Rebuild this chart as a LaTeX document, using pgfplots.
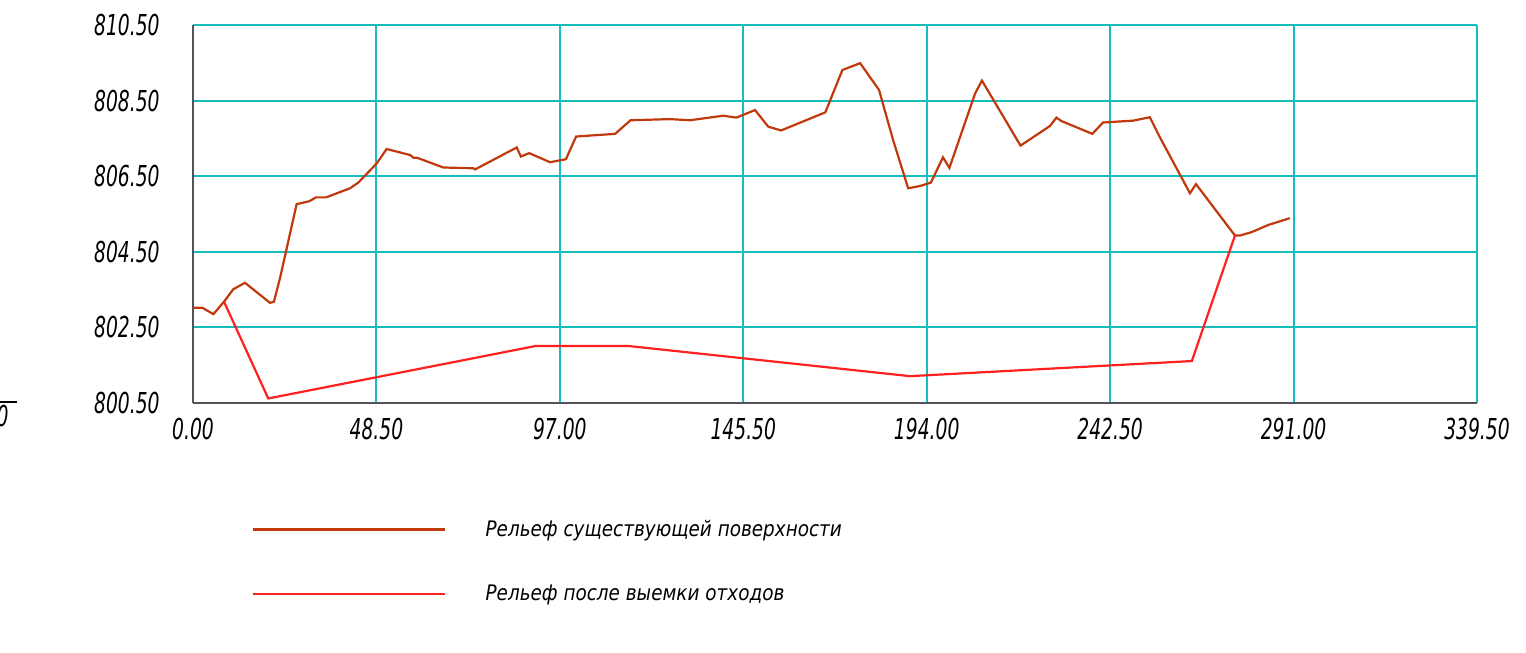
\documentclass[border=0pt]{standalone}
\usepackage{fontspec}
\setmainfont{DejaVu Sans}
\newfontfamily\tickfont{DejaVu Sans}[FakeStretch=0.65]
\newfontfamily\legfont{DejaVu Sans}[FakeStretch=0.86]
\usepackage{pgfplots}
\usepackage{pgfplotstable}
\pgfplotsset{compat=1.18}

\definecolor{gridteal}{RGB}{20,190,190}
\definecolor{relief}{RGB}{192,57,12}
\definecolor{cutred}{RGB}{255,32,32}
\definecolor{axisgray}{RGB}{80,84,86}

% existing ground surface
\pgfplotstableread{
x y
0 803.02
2.46 803.02
5.4 802.85
8.2 803.18
10.66 803.51
13.75 803.68
20.36 803.15
21.4 803.18
23.0 803.80
27.4 805.76
30.8 805.84
32.5 805.94
35.2 805.94
41.5 806.18
43.7 806.33
48.6 806.84
51.2 807.22
57.4 807.06
58.3 806.99
59.2 806.99
66.2 806.73
74.1 806.71
74.6 806.68
85.6 807.26
86.7 807.02
88.9 807.11
94.4 806.87
98.6 806.95
101.3 807.55
111.6 807.62
115.7 807.98
126.1 808.01
131.4 807.98
140.2 808.10
143.7 808.05
148.6 808.25
152.1 807.81
155.5 807.71
167.2 808.19
171.7 809.31
176.4 809.49
181.4 808.78
185.1 807.46
189.1 806.18
192.2 806.24
195.1 806.33
198.3 807.00
200.0 806.72
206.8 808.69
208.6 809.03
218.8 807.31
226.6 807.83
228.3 808.05
229.6 807.96
237.8 807.62
240.6 807.92
248.6 807.97
253.0 808.06
255.7 807.52
263.6 806.05
265.2 806.29
275.5 804.93
276.8 804.93
279.9 805.02
284.3 805.21
290.0 805.39
}\surface

% surface after excavation
\pgfplotstableread{
x y
8.2 803.18
19.9 800.62
90.7 802.01
115.0 802.01
189.6 801.21
264.1 801.61
275.5 804.93
}\excavated

\begin{document}
\begin{tikzpicture}
\begin{axis}[
    at={(0pt,0pt)}, anchor=south west,
    scale only axis,
    width=642pt, height=189pt,
    xmin=0, xmax=339.5,
    ymin=800.5, ymax=810.5,
    xtick={0,48.5,97,145.5,194,242.5,291,339.5},
    ytick={800.5,802.5,804.5,806.5,808.5,810.5},
    axis lines=left,
    axis line style={-, draw=axisgray, line width=1pt},
    major tick length=0pt,
    grid=major,
    grid style={draw=gridteal, line width=1pt},
    /pgf/number format/fixed,
    /pgf/number format/fixed zerofill,
    /pgf/number format/precision=2,
    /pgf/number format/1000 sep={},
    /pgf/number format/assume math mode=true,
    tick label style={font={\tickfont\itshape\fontsize{14.4pt}{16pt}\selectfont}},
    yticklabel style={anchor=east, inner sep=0pt, xshift=-16.5pt},
    xticklabel style={anchor=north, inner sep=0pt, yshift=-7.5pt},
    title={Разрез Б-Б},
    title style={at={(0.479,1)}, anchor=base, yshift=11pt, inner sep=0pt,
        font={\tickfont\itshape\fontsize{14.4pt}{16pt}\selectfont}},
    legend style={at={(0.0452,-0.308)}, anchor=north west, draw=none, fill=none,
        inner sep=0pt, row sep=23pt, nodes={inner sep=0pt}, cells={anchor=west},
        font={\legfont\itshape\fontsize{10.7pt}{12pt}\selectfont},
        /tikz/every odd column/.append style={column sep=20pt}},
    legend image code/.code={\draw[#1] (0pt,0pt) -- (96pt,0pt);},
]
\addplot[relief, line width=1.1pt] table[x=x, y=y] {\surface};
\addlegendentry{Рельеф существующей поверхности}
\addplot[cutred, line width=1.1pt] table[x=x, y=y] {\excavated};
\addlegendentry{Рельеф после выемки отходов}
\end{axis}
% cut-off scale fragment at the left edge
\draw[line width=0.6pt] (-97pt,0.5pt) -- (-88pt,0.5pt);
\node[anchor=north east, inner sep=0pt,
    font={\tickfont\itshape\fontsize{14.4pt}{16pt}\selectfont}] at (-92pt,-1pt) {100};
\pgfresetboundingbox
\useasboundingbox (-96.5pt,-125pt) rectangle (666.5pt,201.5pt);
\end{tikzpicture}
\end{document}
